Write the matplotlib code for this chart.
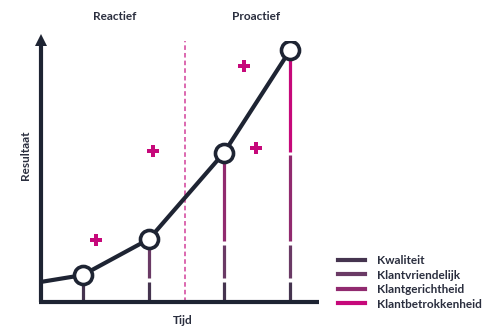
import matplotlib
matplotlib.use("Agg")
from matplotlib import pyplot as plt
from matplotlib.lines import Line2D

plt.rcParams['font.family'] = ['Lato', 'DejaVu Sans']

# data (time in arbitrary units 0-10, result 0-100)
times = [1.5, 3.9, 6.6, 9.0]
result = [10.3, 24.1, 57.1, 96.6]
line_start = 7.7
divider = 5.2

# stacked stem levels per point (upper bound of each layer)
layers = ["Kwaliteit", "Klantvriendelijk", "Klantgerichtheid", "Klantbetrokkenheid"]
layer_tops = [8.4, 22.6, 57.0, 96.6]
layer_colors = ["#45344f", "#6a3a65", "#912a6f", "#c6087a"]

plus_x = [2.0, 4.05, 7.33, 7.76]
plus_y = [23.8, 57.9, 90.4, 59.0]

dark = "#1e2433"
pink = "#c6087a"
txt = "#2a2e3e"

fig = plt.figure(figsize=(4.85, 3.26), dpi=100)
ax = fig.add_axes([41/485, 1-302/326, 277/485, 261/326])
ax.set_xlim(0, 10)
ax.set_ylim(0, 100)
ax.axis("off")

# stems
gap = 1.3
for x, top in zip(times, result):
    lo = 0
    for i, t in enumerate(layer_tops):
        hi = min(t, top)
        if hi <= lo:
            break
        seg_hi = hi if hi >= top else hi - gap / 2
        seg_lo = lo if lo == 0 else lo + gap / 2
        ax.plot([x, x], [seg_lo, seg_hi], color=layer_colors[i], lw=2.3,
                solid_capstyle="butt", zorder=2)
        lo = hi

# divider
ax.plot([divider, divider], [0, 100], color="#d2409a", lw=1.1,
        linestyle=(0, (3, 2)), zorder=1)

# main line with circles
ax.plot([0] + times, [line_start] + result, color=dark, lw=3, zorder=3,
        solid_capstyle="butt")
ax.plot(times, result, "o", ms=13, mfc="white", mec=dark, mew=2.6, zorder=4)

# plus markers
ax.plot(plus_x, plus_y, "P", ms=8.5, color=pink, mew=0, zorder=3)

# axes
ax.plot([0, 0], [0, 98], color=dark, lw=3, clip_on=False, solid_capstyle="butt")
ax.plot([0], [100.5], marker="^", ms=8, color=dark, clip_on=False, mew=0)
ax.plot([-0.07, 10.05], [0, 0], color=dark, lw=3, clip_on=False, solid_capstyle="butt")

fs = 8.5
fig.text(115/485, 1-17/326, "Reactief", ha="center", va="center", fontsize=fs,
         fontweight="bold", color=txt)
fig.text(256/485, 1-17/326, "Proactief", ha="center", va="center", fontsize=fs,
         fontweight="bold", color=txt)
fig.text(26/485, 1-155/326, "Resultaat", ha="center", va="center", fontsize=fs,
         fontweight="bold", color=txt, rotation=90)
fig.text(183/485, 1-320/326, "Tijd", ha="center", va="center", fontsize=fs,
         fontweight="bold", color=txt)

handles = [Line2D([], [], color=c, lw=3) for c in layer_colors]
leg = fig.legend(handles, layers, loc="upper left", bbox_to_anchor=(338/485, 1-255/326),
                 frameon=False, handlelength=2.3, handletextpad=1.0,
                 labelspacing=0.3, borderaxespad=0, borderpad=0,
                 prop={"weight": "bold", "size": fs})
for t in leg.get_texts():
    t.set_color(txt)

fig.savefig("out.png", dpi=100)
